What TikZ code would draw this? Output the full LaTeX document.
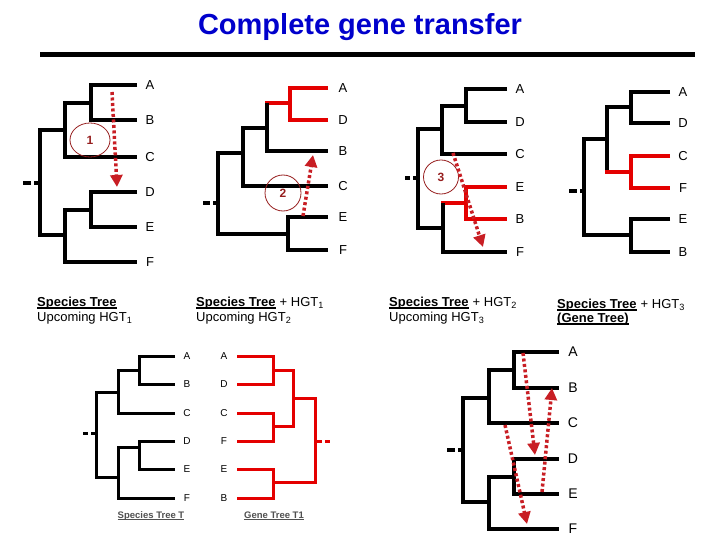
\documentclass[tikz,border=0pt]{standalone}
\usepackage{fontspec}
\setmainfont{Liberation Sans}
\usetikzlibrary{arrows.meta,shapes.geometric}
\definecolor{titleblue}{RGB}{0,0,204}
\definecolor{treered}{RGB}{228,0,0}
\definecolor{arrowred}{RGB}{200,30,36}
\definecolor{circred}{RGB}{150,30,30}
\definecolor{capgray}{RGB}{80,80,80}
\begin{document}
\begin{tikzpicture}[x=1pt,y=-1pt,
  tree/.style={line width=4pt,line join=miter},
  rtree/.style={tree,draw=treered},
  stree/.style={line width=3pt,line join=miter},
  gtree/.style={stree,draw=treered},
  rootdash/.style={line width=4pt,dash pattern=on 8pt off 3pt},
  lab/.style={font=\fontsize{13}{15}\selectfont,inner sep=0},
  slab/.style={font=\fontsize{10}{12}\selectfont,inner sep=0},
  blab/.style={font=\fontsize{14}{16}\selectfont,inner sep=0},
  captxt/.style={anchor=base west,inner sep=0,font=\fontsize{13}{15}\selectfont},
  captxtb/.style={captxt,font=\fontsize{13}{15}\selectfont\bfseries},
  uline/.style={line width=1.3pt},
  harrow/.style={draw=arrowred,line width=3.5pt,dash pattern=on 3pt off 2.5pt,
     -{Triangle[length=12pt,width=12pt,fill=arrowred]}},
  hcirc/.style={ellipse,draw=circred,line width=0.8pt,text=circred,
     font=\fontsize{12}{14}\selectfont\bfseries,inner sep=0},
  bcap/.style={font=\fontsize{9.5}{11}\selectfont\bfseries,text=capgray,inner sep=0,anchor=base}
]
\useasboundingbox (0,0) rectangle (720,540);

% title
\node[font=\fontsize{29}{34}\selectfont\bfseries,text=titleblue] (title) at (360,27) {Complete gene transfer};
\draw[line width=5pt] (40,54.5) -- (695,54.5);

% ---------- tree 1 ----------
\draw[tree] (137,85) -| (91,120) -- (137,120);
\draw[tree] (91,103) -| (65,157) -- (137,157);
\draw[tree] (137,192) -| (91,227) -- (137,227);
\draw[tree] (91,210) -| (65,262) -- (137,262);
\draw[tree] (65,130) -| (40,235) -- (65,235);
\draw[rootdash] (23,183) -- (40,183);
\foreach \n/\y in {A/85,B/120,C/157,D/192,E/227,F/262}
  \node[lab] (ta\n) at (150,\y) {\n};
\node[hcirc,minimum width=40pt,minimum height=34pt] (h1) at (90,140) {1};
\coordinate (a1s) at (112,92); \coordinate (a1e) at (117,187);
\draw[harrow] (a1s) -- (a1e);

% ---------- tree 2 ----------
\draw[rtree] (328,88) -| (290,120) -- (328,120);
\draw[rtree,line cap=rect] (290,103) -- (267,103);
\draw[tree] (267,103) |- (328,151);
\draw[tree] (267,128) -| (243,186) -- (328,186);
\draw[tree] (243,153) -| (218,234) -- (288,234);
\draw[tree] (328,217) -| (288,250) -- (328,250);
\draw[rootdash,dash pattern=on 7pt off 3pt] (203,203) -- (218,203);
\foreach \n/\y in {A/88,D/120,B/151,C/186,E/217,F/250}
  \node[lab] (tb\n) at (343,\y) {\n};
\node[hcirc,minimum width=36pt,minimum height=36pt] (h2) at (283,193) {2};
\coordinate (a2s) at (303,216); \coordinate (a2e) at (313,155);
\draw[harrow] (a2s) -- (a2e);

% ---------- tree 3 ----------
\draw[tree] (507,89) -| (466,122) -- (507,122);
\draw[tree] (466,106) -| (442,154) -- (507,154);
\draw[tree] (442,129) -| (418,228) -- (443,228);
\draw[rtree] (507,187) -| (466,219) -- (507,219);
\draw[rtree,line cap=rect] (466,203) -- (443,203);
\draw[tree] (443,203) |- (507,252);
\draw[rootdash,dash pattern=on 5pt off 3pt] (405,178) -- (418,178);
\foreach \n/\y in {A/89,D/122,C/154,E/187,B/219,F/252}
  \node[lab] (tc\n) at (520,\y) {\n};
\node[hcirc,minimum width=35pt,minimum height=34pt] (h3) at (441,177) {3};
\coordinate (a3s) at (453,153); \coordinate (a3e) at (483,247);
\draw[harrow] (a3s) -- (a3e);

% ---------- tree 4 ----------
\draw[tree] (670,92) -| (631,123) -- (670,123);
\draw[tree] (631,107) -| (607,172);
\draw[rtree] (670,156) -| (631,188) -- (670,188);
\draw[rtree,line cap=rect] (631,172) -- (607,172);
\draw[tree] (607,139) -| (584,235) -- (631,235);
\draw[tree] (670,219) -| (631,252) -- (670,252);
\draw[rootdash] (569,191) -- (584,191);
\foreach \n/\y in {A/92,D/123,C/156,F/188,E/219,B/252}
  \node[lab] (td\n) at (683,\y) {\n};

% ---------- captions ----------
\node[captxtb] (c1a) at (37,306) {Species Tree};
\draw[uline] ([yshift=-2pt]c1a.base west) -- ([yshift=-2pt]c1a.base east);
\node[captxt] (c1b) at (37,321) {Upcoming HGT\textsubscript{1}};

\node[captxtb] (c2a) at (196,306) {Species Tree};
\draw[uline] ([yshift=-2pt]c2a.base west) -- ([yshift=-2pt]c2a.base east);
\node[captxt] (c2p) at (c2a.base east) {\ + HGT\textsubscript{1}};
\node[captxt] (c2b) at (196,321) {Upcoming HGT\textsubscript{2}};

\node[captxtb] (c3a) at (389,306) {Species Tree};
\draw[uline] ([yshift=-2pt]c3a.base west) -- ([yshift=-2pt]c3a.base east);
\node[captxt] (c3p) at (c3a.base east) {\ + HGT\textsubscript{2}};
\node[captxt] (c3b) at (389,321) {Upcoming HGT\textsubscript{3}};

\node[captxtb] (c4a) at (557,308) {Species Tree};
\draw[uline] ([yshift=-2pt]c4a.base west) -- ([yshift=-2pt]c4a.base east);
\node[captxt] (c4p) at (c4a.base east) {\ + HGT\textsubscript{3}};
\node[captxtb] (c4b) at (557,322) {(Gene Tree)};
\draw[uline] ([yshift=-2pt]c4b.base west) -- ([yshift=-2pt]c4b.base east);

% ---------- bottom left: species tree T ----------
\draw[stree] (175,356) -| (139,384) -- (175,384);
\draw[stree] (139,370) -| (118,413) -- (175,413);
\draw[stree] (118,392) -| (96,477) -- (118,477);
\draw[stree] (175,441) -| (139,469) -- (175,469);
\draw[stree] (139,447) -| (118,498) -- (175,498);
\draw[line width=3pt,dash pattern=on 5pt off 3pt] (83,433) -- (96,433);
\foreach \n/\y in {A/356,B/384,C/413,D/441,E/469,F/498}
  \node[slab] (te\n) at (187,\y) {\n};
\node[bcap] (cT) at (151,518) {Species Tree T};
\draw[line width=0.8pt,capgray] ([yshift=-1.5pt]cT.base west) -- ([yshift=-1.5pt]cT.base east);

% ---------- bottom left: gene tree T1 ----------
\draw[gtree] (237,356) -| (273,384) -- (237,384);
\draw[gtree] (237,413) -| (273,441) -- (237,441);
\draw[gtree] (273,370) -| (293,426) -- (273,426);
\draw[gtree] (293,398) -| (315,482) -- (273,482);
\draw[gtree] (237,469) -| (273,498) -- (237,498);
\draw[line width=3pt,draw=treered,dash pattern=on 5pt off 3pt] (317,441) -- (331,441);
\foreach \n/\y in {A/356,D/384,C/413,F/441,E/469,B/498}
  \node[slab] (tf\n) at (224,\y) {\n};
\node[bcap] (cG) at (274,518) {Gene Tree T1};
\draw[line width=0.8pt,capgray] ([yshift=-1.5pt]cG.base west) -- ([yshift=-1.5pt]cG.base east);

% ---------- bottom right ----------
\draw[tree] (559,352) -| (514,388) -- (559,388);
\draw[tree] (514,370) -| (489,423) -- (559,423);
\draw[tree] (489,398) -| (463,502) -- (489,502);
\draw[tree] (559,459) -| (514,494) -- (559,494);
\draw[tree] (514,477) -| (489,529) -- (559,529);
\draw[rootdash] (447,450) -- (463,450);
\foreach \n/\y in {A/352,B/388,C/423,D/459,E/494,F/529}
  \node[blab] (tg\n) at (573,\y) {\n};
\coordinate (b1s) at (523,353); \coordinate (b1e) at (535,455);
\coordinate (b2s) at (542,492); \coordinate (b2e) at (552,388);
\coordinate (b3s) at (505,425); \coordinate (b3e) at (527,524);
\draw[harrow] (b1s) -- (b1e);
\draw[harrow] (b2s) -- (b2e);
\draw[harrow] (b3s) -- (b3e);
\end{tikzpicture}
\end{document}
